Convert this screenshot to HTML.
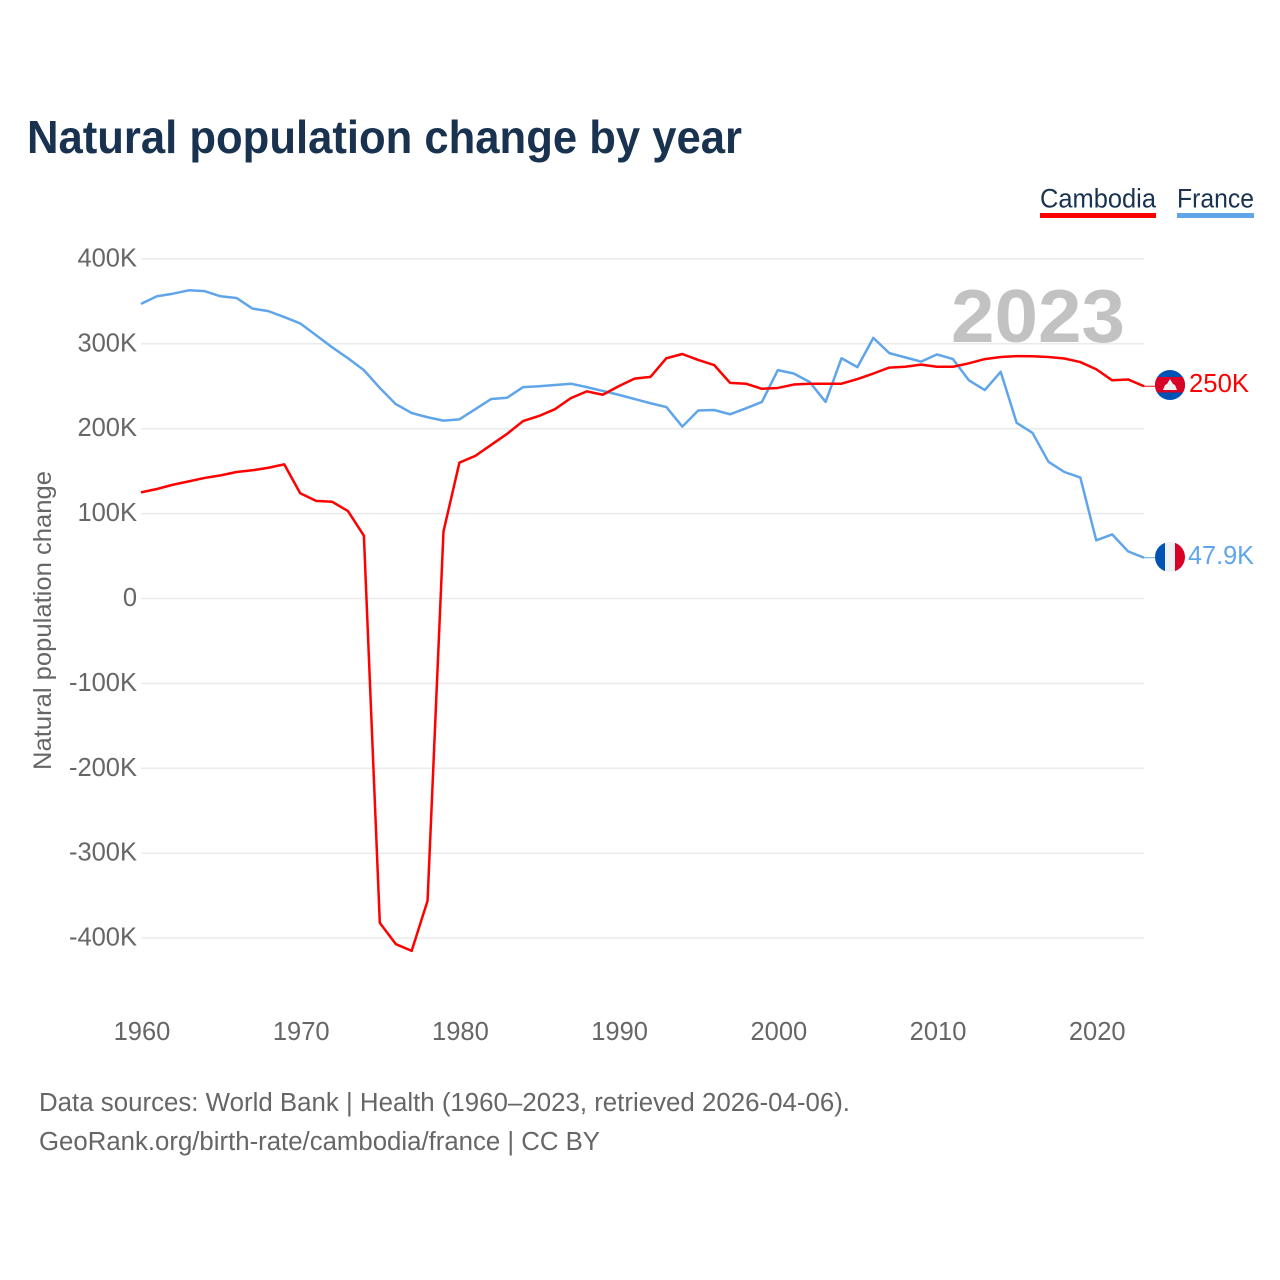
<!DOCTYPE html>
<html lang="en">
<head>
<meta charset="utf-8">
<title>Natural population change by year</title>
<style>
html,body{margin:0;padding:0;background:#fff;}
svg{display:block;font-family:"Liberation Sans",Arial,sans-serif;}
</style>
</head>
<body>
<svg id="chart" xmlns="http://www.w3.org/2000/svg" width="1280" height="1280" viewBox="0 0 1280 1280">
  <rect x="0" y="0" width="1280" height="1280" fill="#ffffff"/>
  <text x="27" y="153" font-size="46" font-weight="700" fill="#18324f" textLength="715" lengthAdjust="spacingAndGlyphs">Natural population change by year</text>

  <g id="grid"></g>
  <g id="yticks"></g>
  <g id="xticks"></g>
  <text transform="translate(51,770) rotate(-90)" x="0" y="0" font-size="25" fill="#666666" textLength="299" lengthAdjust="spacingAndGlyphs">Natural population change</text>

  <text x="951" y="342" font-size="75" font-weight="700" fill="#c2c2c2" textLength="174" lengthAdjust="spacingAndGlyphs">2023</text>

  <g id="series"></g>

  <g>
    <text x="1040" y="207.5" font-size="27" fill="#18324f" textLength="116" lengthAdjust="spacingAndGlyphs">Cambodia</text>
    <rect x="1040" y="213" width="116" height="5" fill="#ff0000"/>
  </g>
  <g>
    <text x="1177" y="207.5" font-size="27" fill="#18324f" textLength="77" lengthAdjust="spacingAndGlyphs">France</text>
    <rect x="1177" y="213" width="77" height="5" fill="#60a5ea"/>
  </g>

  <defs>
    <clipPath id="clip-kh"><circle cx="1170" cy="385" r="15"/></clipPath>
    <clipPath id="clip-fr"><circle cx="1170" cy="557" r="15"/></clipPath>
  </defs>
  <g clip-path="url(#clip-kh)">
    <rect x="1155" y="370" width="30" height="30" fill="#0052b4"/>
    <rect x="1155" y="377" width="30" height="15.5" fill="#d80027"/>
    <polygon points="1163,390 1165,385 1167,384 1170,379 1173,384 1175,385 1177,390" fill="#f0f0f0"/>
  </g>
  <g clip-path="url(#clip-fr)">
    <rect x="1155" y="542" width="10" height="30" fill="#0052b4"/>
    <rect x="1165" y="542" width="10" height="30" fill="#f0f0f0"/>
    <rect x="1175" y="542" width="10" height="30" fill="#d80027"/>
  </g>
  <text id="label-kh" x="1189" y="392" font-size="25.5" fill="#ff0000" textLength="60" lengthAdjust="spacingAndGlyphs"></text>
  <text id="label-fr" x="1188" y="564" font-size="25.5" fill="#60a5ea" textLength="66" lengthAdjust="spacingAndGlyphs"></text>

  <text x="39" y="1111" font-size="25.5" fill="#666666" textLength="811" lengthAdjust="spacingAndGlyphs">Data sources: World Bank | Health (1960–2023, retrieved 2026-04-06).</text>
  <text x="39" y="1150" font-size="25.5" fill="#666666" textLength="561" lengthAdjust="spacingAndGlyphs">GeoRank.org/birth-rate/cambodia/france | CC BY</text>
</svg>
<script>
const startYear = 1960;
const cambodia = [125,129,134,138,142,145,149,151,154,158,124,115,114,103,74,-382,-407,-415,-356,79,160,168,181,194,209,215,223,236,244,240,250,259,261,283,288,281,275,254,253,247,248,252,253,253,253,258.5,265,272,273,275.5,273,273,277,282,284.5,285.5,285.3,284.5,282.7,278.5,270,257,258,250];
const france = [347,356,359,363,362,356,354,341.5,338.5,331.5,324,310,296,283,269,248,229,218.5,213.5,209.5,211,223,235,236.5,249,250,251.5,253,249,244.5,240,235,230,225.5,202.5,221.5,222,217,224,231.5,269,265,255,231.5,283,272.5,307,289,284,279,287.5,282,257,245.5,267,207,195,161,149,142.5,68.5,75.5,55.5,48];
const yTickValues = [400,300,200,100,0,-100,-200,-300,-400];
const yTickLabels = ['400K','300K','200K','100K','0','-100K','-200K','-300K','-400K'];
const xTickYears = [1960,1970,1980,1990,2000,2010,2020];
const endLabels = ['250K','47.9K'];

const NS = 'http://www.w3.org/2000/svg';
function xScale(year){ return 141 + (year - 1960) * (1003 / 63); }
function yScale(v){ return 598.5 - v * 0.849; }

const grid = document.getElementById('grid');
const yticks = document.getElementById('yticks');
const xticks = document.getElementById('xticks');
const series = document.getElementById('series');

yTickValues.forEach(function(v, i){
  const line = document.createElementNS(NS, 'line');
  
  
  line.setAttribute('x1', 141);
  line.setAttribute('x2', 1144);
  line.setAttribute('y1', yScale(v));
  line.setAttribute('y2', yScale(v));
  line.setAttribute('stroke', '#ebebeb');
  line.setAttribute('stroke-width', '1.5');
  grid.appendChild(line);

  const t = document.createElementNS(NS, 'text');
  
  
  t.setAttribute('x', 137);
  t.setAttribute('y', yScale(v) + 7.5);
  t.setAttribute('text-anchor', 'end');
  t.setAttribute('font-size', '25.5');
  t.setAttribute('fill', '#666666');
  t.textContent = yTickLabels[i];
  yticks.appendChild(t);
});

xTickYears.forEach(function(year){
  const t = document.createElementNS(NS, 'text');
  
  
  t.setAttribute('x', xScale(year) + 1);
  t.setAttribute('y', 1040);
  t.setAttribute('text-anchor', 'middle');
  t.setAttribute('font-size', '25.5');
  t.setAttribute('fill', '#666666');
  t.textContent = String(year);
  xticks.appendChild(t);
});

function drawSeries(values, color, name){
  const d = values.map(function(v, i){
    return (i ? 'L' : 'M') + xScale(startYear + i).toFixed(2) + ' ' + yScale(v).toFixed(2);
  }).join(' ');
  const path = document.createElementNS(NS, 'path');
  
  
  path.setAttribute('d', d);
  path.setAttribute('fill', 'none');
  path.setAttribute('stroke', color);
  path.setAttribute('stroke-width', '2.5');
  path.setAttribute('stroke-linejoin', 'round');
  series.appendChild(path);

  const last = values[values.length - 1];
  const leader = document.createElementNS(NS, 'line');
  
  
  leader.setAttribute('x1', xScale(startYear + values.length - 1));
  leader.setAttribute('x2', 1155);
  leader.setAttribute('y1', yScale(last));
  leader.setAttribute('y2', yScale(last));
  leader.setAttribute('stroke', color);
  leader.setAttribute('stroke-width', '1');
  series.appendChild(leader);
}
drawSeries(france, '#60a5ea', 'france');
drawSeries(cambodia, '#ff0000', 'cambodia');

document.getElementById('label-kh').textContent = endLabels[0];
document.getElementById('label-fr').textContent = endLabels[1];
</script>
</body>
</html>
